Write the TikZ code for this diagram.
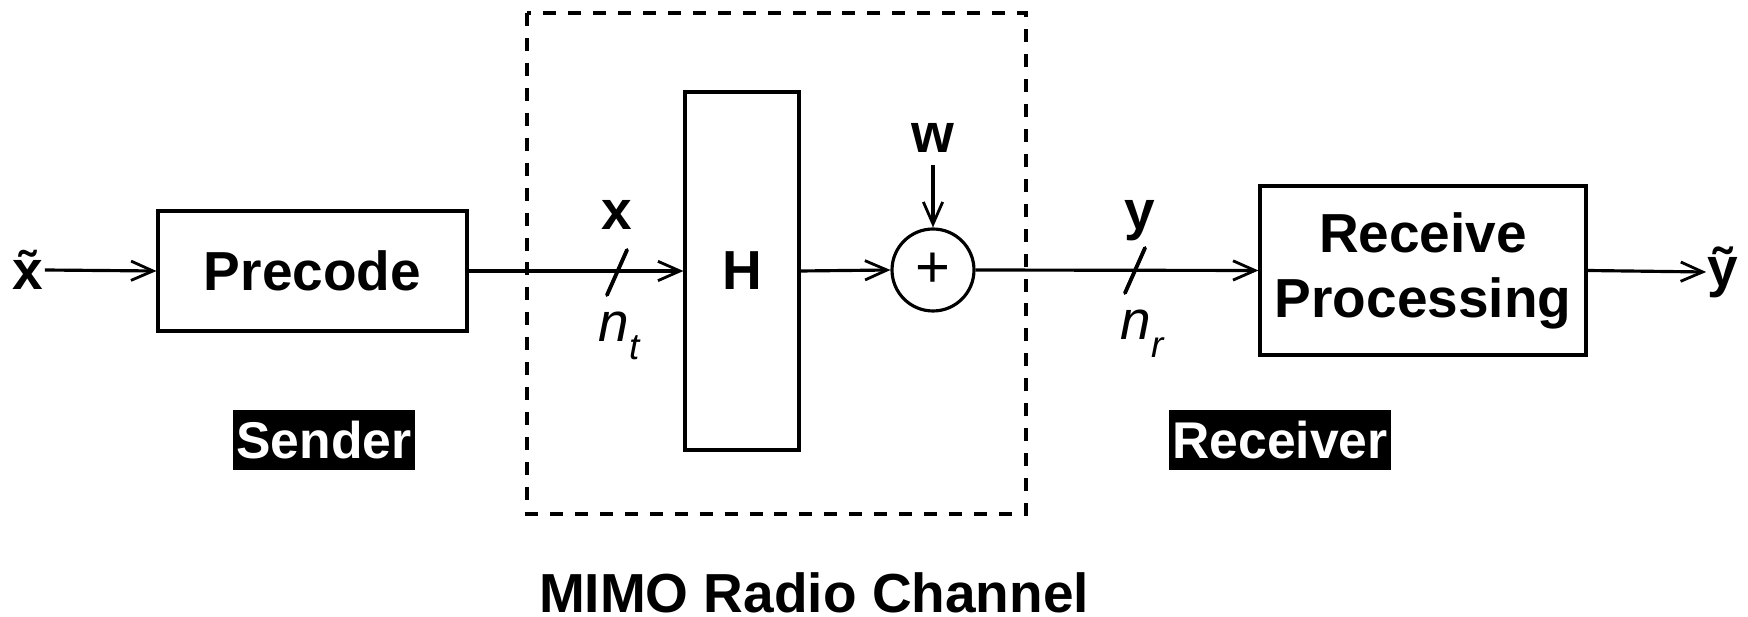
\documentclass[tikz,border=0pt]{standalone}
\usepackage{fontspec}
\setmainfont{Liberation Sans}
\usetikzlibrary{arrows.meta}
\begin{document}
\begin{tikzpicture}[x=0.02cm,y=-0.02cm, line width=1.8pt,
  font=\fontsize{31.3}{37}\selectfont\bfseries,
  blk/.style={draw, inner sep=0},
  arr/.style={-{Straight Barb[length=12.5pt,width=11pt,line width=1.6pt]}},
  lab/.style={fill=black, text=white, inner sep=0, minimum height=1.2cm,
    font=\fontsize{29.4}{33}\selectfont\bfseries},
  txt/.style={inner sep=0, anchor=base},
  sub/.style={inner sep=0, anchor=base west, font=\fontsize{31.3}{37}\selectfont\mdseries\itshape}
]
\useasboundingbox (0,0) rectangle (1748,617);

% channel frame
\coordinate (chA) at (527,13);
\coordinate (chB) at (1026,514);
\draw[dash pattern=on 7.4pt off 6.8pt] (chA) rectangle (chB);

% blocks
\node[blk, minimum width=6.18cm, minimum height=2.4cm] (pre) at (312.5,271) {Precode};
\node[blk, minimum width=2.28cm, minimum height=7.16cm] (H) at (742,271) {H};
\node[draw, circle, inner sep=0, minimum size=1.64cm, font=\fontsize{34}{37}\selectfont\mdseries] (sum) at (933,270) {+};
\node[blk, minimum width=6.52cm, minimum height=3.38cm, align=center] (rx) at (1423,270.5) {Receive\\Processing};

% signals
\node[inner sep=0] (xt) at (28,270) {\~{x}};
\node[inner sep=0] (yt) at (1723,272) {\~{y}};
\node[txt] (w) at (933,153) {w};
\node[txt] (xl) at (617,230) {x};
\node[txt] (yl) at (1140,230) {y};
\node[sub] (nt) at (597,342) {n\raisebox{-0.32em}{\fontsize{21}{21}\selectfont t}};
\node[sub] (nr) at (1119,340) {n\raisebox{-0.32em}{\fontsize{21}{21}\selectfont r}};

% connectors
\draw[arr] (xt.east) -- (pre.west);
\draw[arr] (pre.east) -- (H.west);
\draw[arr] (H.east) -- (sum.west);
\draw[arr] (sum.east) -- (rx.west);
\draw[arr] (rx.east) -- (yt.west);
\coordinate (wa) at (933,165);
\draw[arr] (wa) -- (sum.north);

% bus slashes
\coordinate (s1) at (617,272);
\coordinate (s2) at (1135,270);
\draw[line cap=round, line width=2.2pt] ([shift={(-10,23)}]s1) -- ([shift={(10,-22)}]s1);
\draw[line cap=round, line width=2.2pt] ([shift={(-10,23)}]s2) -- ([shift={(10,-22)}]s2);

% labels
\node[lab, minimum width=3.64cm] (snd) at (324,440) {Sender};
\node[lab, minimum width=4.44cm] (rcv) at (1280,440) {Receiver};
\node[txt] (mimo) at (814,613) {MIMO Radio Channel};
\end{tikzpicture}
\end{document}
